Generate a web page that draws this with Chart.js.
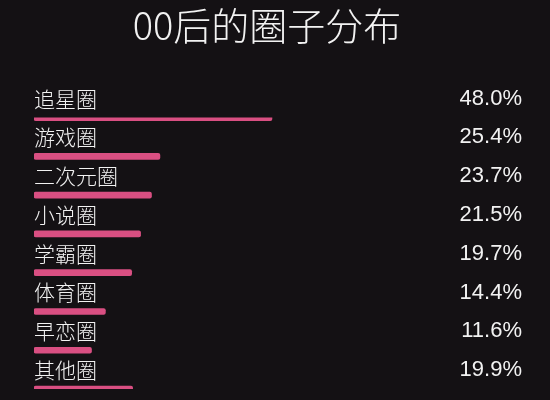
<!DOCTYPE html>
<html>
<head>
<meta charset="utf-8">
<script src="https://cdn.jsdelivr.net/npm/chart.js@4"></script>
<style>
  html, body { margin: 0; padding: 0; background: #141114; }
  #wrap { width: 550px; height: 400px; }
</style>
</head>
<body>
<div id="wrap"><canvas id="c"></canvas></div>
<script>
const titleText = '00后的圈子分布';
const categories = ['追星圈', '游戏圈', '二次元圈', '小说圈', '学霸圈', '体育圈', '早恋圈', '其他圈'];
const values = [48.0, 25.4, 23.7, 21.5, 19.7, 14.4, 11.6, 19.9];

const barColor = '#d94f82';
const textColor = '#f2f2f2';

const rowLabels = {
  id: 'rowLabels',
  afterDatasetsDraw(chart) {
    const { ctx, chartArea } = chart;
    const meta = chart.getDatasetMeta(0);
    ctx.save();
    ctx.fillStyle = textColor;
    ctx.textBaseline = 'middle';
    meta.data.forEach((bar, i) => {
      const y = bar.y - 19;
      ctx.font = '300 21px "Noto Sans CJK SC", "Noto Sans", sans-serif';
      ctx.textAlign = 'left';
      ctx.fillText(categories[i], chartArea.left, y);
      ctx.font = '22px "Liberation Sans", "Noto Sans", sans-serif';
      ctx.textAlign = 'right';
      ctx.fillText(values[i].toFixed(1) + '%', chartArea.right + 22, y);
    });
    ctx.restore();
  }
};

new Chart(document.getElementById('c'), {
  type: 'bar',
  data: {
    labels: categories,
    datasets: [{
      data: values,
      backgroundColor: barColor,
      barThickness: 6,
      borderRadius: 2,
      borderSkipped: false
    }]
  },
  options: {
    indexAxis: 'y',
    responsive: true,
    maintainAspectRatio: false,
    animation: false,
    layout: { padding: { top: 0, bottom: 11, left: 34, right: 50 } },
    scales: {
      x: { display: false, min: 0, max: 94 },
      y: { display: false, offset: false, grid: { offset: false } }
    },
    plugins: {
      legend: { display: false },
      tooltip: { enabled: false },
      title: {
        display: true,
        text: titleText,
        color: textColor,
        font: { family: '"Noto Sans CJK SC", "Noto Sans", sans-serif', size: 38, weight: '300', lineHeight: 1.2 },
        padding: { top: 3, bottom: 69 }
      }
    }
  },
  plugins: [rowLabels]
});
</script>
</body>
</html>
